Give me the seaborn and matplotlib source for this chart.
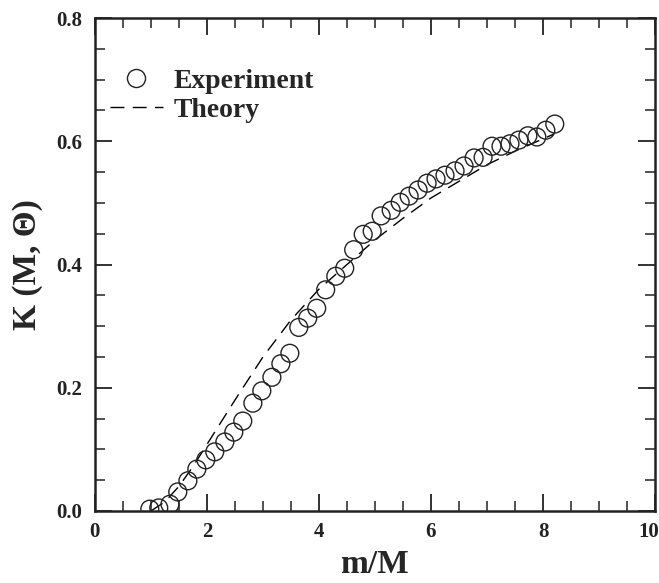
import matplotlib
matplotlib.use("Agg")
import matplotlib.pyplot as plt
import matplotlib.transforms as mtransforms
import seaborn as sns
import pandas as pd
from matplotlib.ticker import MultipleLocator
from matplotlib.lines import Line2D

# Experimental data (m/M, K)
exp_x = [0.98, 1.14, 1.34, 1.48, 1.66, 1.82, 1.98, 2.14, 2.32, 2.48, 2.64, 2.82,
         2.98, 3.16, 3.32, 3.48, 3.64, 3.80, 3.96, 4.12, 4.30, 4.46, 4.62, 4.79,
         4.95, 5.11, 5.29, 5.45, 5.61, 5.77, 5.93, 6.09, 6.25, 6.43, 6.59, 6.77,
         6.93, 7.09, 7.25, 7.41, 7.57, 7.73, 7.89, 8.05, 8.21]
exp_y = [0.003, 0.005, 0.011, 0.031, 0.049, 0.068, 0.083, 0.096, 0.112, 0.128,
         0.146, 0.175, 0.195, 0.217, 0.239, 0.256, 0.298, 0.313, 0.329, 0.359,
         0.381, 0.394, 0.424, 0.449, 0.454, 0.479, 0.488, 0.501, 0.511, 0.521,
         0.532, 0.539, 0.545, 0.552, 0.560, 0.573, 0.574, 0.592, 0.592, 0.596,
         0.602, 0.609, 0.607, 0.618, 0.628]

# Theory curve
theo_x = [1.0, 1.25, 1.5, 1.75, 2.0, 2.5, 3.0, 3.5, 4.0, 4.5, 5.0, 5.5, 6.0,
          6.5, 7.0, 7.5, 8.0, 8.2]
theo_y = [0.0, 0.015, 0.04, 0.072, 0.108, 0.18, 0.25, 0.31, 0.36, 0.40, 0.44,
          0.475, 0.508, 0.535, 0.562, 0.584, 0.604, 0.612]

x_ticks = [0, 2, 4, 6, 8, 10]
y_ticks = [0.0, 0.2, 0.4, 0.6, 0.8]

sns.set_theme(style="white")
plt.rcParams["font.family"] = ["Liberation Serif", "DejaVu Serif"]
plt.rcParams["font.weight"] = "bold"

fig = plt.figure(figsize=(6.59, 5.83), dpi=100)
ax = fig.add_axes([0.144, 0.1235, 0.850, 0.8455])

df_exp = pd.DataFrame({"x": exp_x, "y": exp_y})
df_th = pd.DataFrame({"x": theo_x, "y": theo_y})

sns.lineplot(data=df_th, x="x", y="y", ax=ax, color="black", linewidth=1.0,
             dashes=False, sort=False)
ax.lines[-1].set_dashes((10, 6))
sns.scatterplot(data=df_exp, x="x", y="y", ax=ax, s=165, marker="o",
                facecolor="none", edgecolor="#222222", linewidth=1.0, zorder=3)

ax.set_xlim(0, 10)
ax.set_ylim(0, 0.8)
ax.set_xticks(x_ticks)
ax.set_yticks(y_ticks)
ax.set_xticklabels([str(v) for v in x_ticks], fontsize=15, fontweight="bold")
ax.set_yticklabels([f"{v:.1f}" for v in y_ticks], fontsize=15, fontweight="bold")
ax.xaxis.set_minor_locator(MultipleLocator(0.5))
ax.yaxis.set_minor_locator(MultipleLocator(0.05))
ax.tick_params(which="major", direction="in", length=12, width=1.3,
               top=True, right=True, bottom=True, left=True, pad=8, colors="#222222")
ax.tick_params(axis="y", which="major", pad=9)
ax.tick_params(which="minor", direction="in", length=7, width=1.1,
               top=True, right=True, bottom=True, left=True, colors="#222222")
for sp in ax.spines.values():
    sp.set_visible(True)
    sp.set_linewidth(1.8)
    sp.set_color("#222222")

# shift the last x tick label slightly left so it stays inside the figure
last = ax.get_xticklabels()[-1]
last.set_transform(last.get_transform() +
                   mtransforms.ScaledTranslation(-6 / 100, 0, fig.dpi_scale_trans))

ax.set_xlabel("m/M", fontsize=24, fontweight="bold", labelpad=5)
ax.set_ylabel("K (M, Θ)", fontsize=24, fontweight="bold", labelpad=10)

handles = [
    Line2D([], [], marker="o", markersize=13, markerfacecolor="none",
           markeredgecolor="#222222", markeredgewidth=1.0, linestyle="none"),
    Line2D([], [], color="black", linewidth=1.0, dashes=(10, 6)),
]
ax.legend(handles, ["Experiment", "Theory"], loc="upper left",
          bbox_to_anchor=(0.002, 0.926), frameon=False, borderpad=0,
          handlelength=1.9, handletextpad=0.4, labelspacing=0.12,
          prop={"family": "Liberation Serif", "weight": "bold", "size": 20})

fig.savefig("out.png", dpi=100)
